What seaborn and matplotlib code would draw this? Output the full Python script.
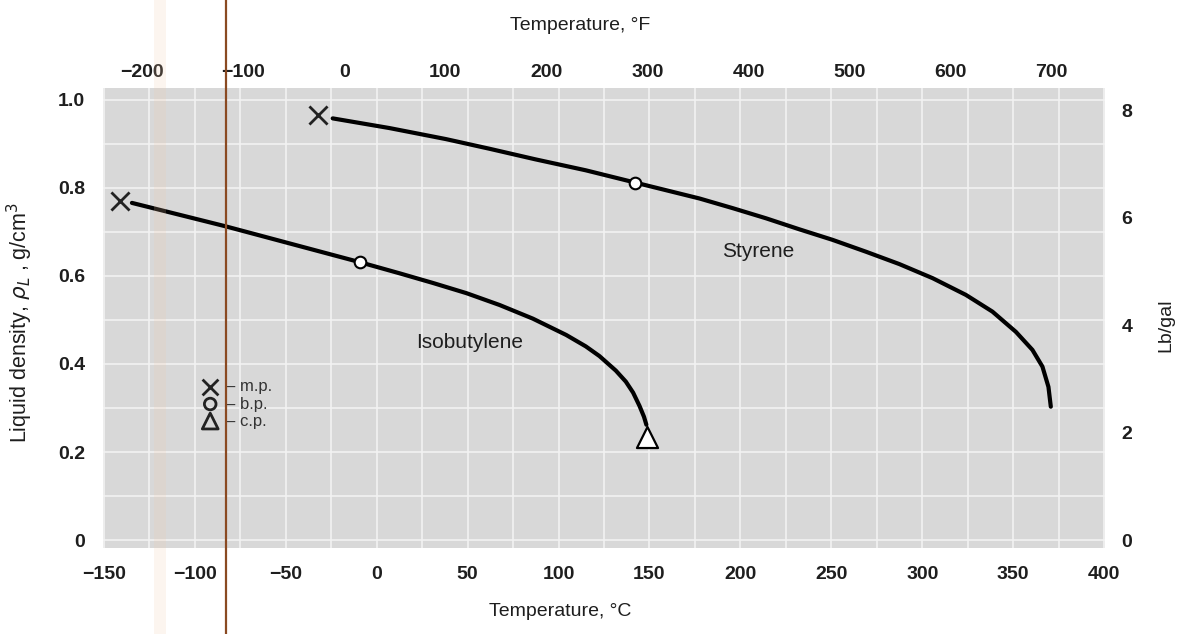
import matplotlib
matplotlib.use("Agg")
import matplotlib.pyplot as plt
import seaborn as sns
import pandas as pd
from matplotlib.lines import Line2D

# ---- data ----
iso_T = [-134.6, -83.3, -9.0, 12.6, 31.0, 49.3, 67.6, 85.9, 104.2, 115.0, 122.5, 131.5,
         137.0, 141.0, 144.5, 147.0, 148.3]
iso_rho = [0.766, 0.713, 0.631, 0.606, 0.584, 0.561, 0.534, 0.503, 0.466, 0.440, 0.418, 0.385,
           0.360, 0.335, 0.305, 0.280, 0.262]

sty_T = [-24.2, 7.0, 38.0, 62.0, 87.2, 115.0, 142.3, 177.5, 195.8, 214.1, 232.4, 250.7, 269.1,
         287.4, 305.7, 324.0, 338.6, 351.5, 360.6, 366.1, 369.4, 370.7]
sty_rho = [0.958, 0.936, 0.911, 0.889, 0.865, 0.840, 0.812, 0.776, 0.754, 0.731, 0.706, 0.682,
           0.655, 0.627, 0.595, 0.557, 0.519, 0.473, 0.432, 0.394, 0.348, 0.303]

mp_T = [-141.0, -32.4]
mp_rho = [0.770, 0.966]
bp_T = [-9.0, 142.3]
bp_rho = [0.631, 0.812]
cp_T = [148.4]
cp_rho = [0.234]

labels = ["Isobutylene", "Styrene"]
label_T = [51.0, 210.0]
label_rho = [0.448, 0.655]

x_ticks_C = [-150, -100, -50, 0, 50, 100, 150, 200, 250, 300, 350, 400]
x_ticks_F = [-200, -100, 0, 100, 200, 300, 400, 500, 600, 700]
y_ticks = [0, 0.2, 0.4, 0.6, 0.8, 1.0]
y_tick_labels = ["0", "0.2", "0.4", "0.6", "0.8", "1.0"]
y_ticks_lb = [0, 2, 4, 6, 8]
key_labels = ["m.p.", "b.p.", "c.p."]


def fmt(v):
    return ("\u2212" + str(abs(v))) if v < 0 else str(v)


# ---- style ----
sns.set_theme(style="whitegrid")
sns.set_style({"axes.facecolor": "#d8d8d8", "grid.color": "#f2f2f2",
               "axes.edgecolor": "#d8d8d8"})
plt.rcParams["font.family"] = ["Liberation Sans", "DejaVu Sans"]
tickfont = dict(family=["Liberation Sans", "DejaVu Sans"], weight="bold", size=14)
ink = "#1e1e1e"

fig = plt.figure(figsize=(11.78, 6.34), dpi=100)
ax = fig.add_axes([103 / 1178, 1 - 548 / 634, 1002 / 1178, 460 / 634])

df_iso = pd.DataFrame({"T": iso_T, "rho": iso_rho})
df_sty = pd.DataFrame({"T": sty_T, "rho": sty_rho})
sns.lineplot(data=df_iso, x="T", y="rho", ax=ax, color="black", lw=3.0, sort=False, zorder=3)
sns.lineplot(data=df_sty, x="T", y="rho", ax=ax, color="black", lw=3.0, sort=False, zorder=3)

sns.scatterplot(x=mp_T, y=mp_rho, ax=ax, marker="x", s=170, color="#222222", linewidth=2.0, zorder=4)
sns.scatterplot(x=bp_T, y=bp_rho, ax=ax, marker="o", s=70, facecolor="white",
                edgecolor="black", linewidth=1.5, zorder=4)
sns.scatterplot(x=cp_T, y=cp_rho, ax=ax, marker="^", s=230, facecolor="white",
                edgecolor="black", linewidth=1.6, zorder=4)

for name, t, r in zip(labels, label_T, label_rho):
    ax.text(t, r, name, ha="center", va="center", fontsize=15, color=ink, zorder=5)

# key
key_markers = ["x", "o", "^"]
key_y = [0.350, 0.313, 0.276]
for m, yy, lab in zip(key_markers, key_y, key_labels):
    if m == "x":
        ax.scatter([0.107], [yy], transform=ax.transAxes, marker="x", s=130,
                   color="#222222", linewidths=2.0, zorder=5)
    else:
        ax.scatter([0.107], [yy], transform=ax.transAxes, marker=m, s=70 if m == "o" else 130,
                   facecolor="none", edgecolor="#222222", linewidths=2.0, zorder=5)
    ax.text(0.123, yy, "\u2013 " + lab, transform=ax.transAxes, ha="left", va="center",
            fontsize=12, color="#333333", zorder=5)

ax.set_xlim(-150.5, 400.5)
ax.set_ylim(-0.018, 1.027)
ax.set_xticks(x_ticks_C)
ax.set_xticklabels([fmt(v) for v in x_ticks_C], **tickfont)
ax.set_xticks(range(-150, 401, 25), minor=True)
ax.set_yticks(y_ticks)
ax.set_yticklabels(y_tick_labels, **tickfont)
ax.set_yticks([i / 10 for i in range(0, 11)], minor=True)
ax.grid(True, which="both", color="#f2f2f2", lw=1.2)
ax.tick_params(which="both", length=0, colors=ink)
ax.tick_params(axis="x", pad=13)
ax.tick_params(axis="y", pad=13)
for s in ax.spines.values():
    s.set_visible(False)

ax.set_xlabel("Temperature, \u00b0C", fontsize=14, color=ink)
ax.xaxis.set_label_coords(0.456, -0.12)
ax.set_ylabel("Liquid density, $\\rho_L$ , g/cm$^3$", fontsize=15.5, color=ink)
ax.yaxis.set_label_coords(-0.068, 0.49)

c2f = lambda c: c * 9 / 5 + 32
f2c = lambda f: (f - 32) * 5 / 9
secx = ax.secondary_xaxis("top", functions=(c2f, f2c))
secx.set_xticks(x_ticks_F)
secx.set_xticklabels([fmt(v) for v in x_ticks_F], **tickfont)
secx.tick_params(length=0, pad=5, colors=ink)
secx.set_xlabel("Temperature, \u00b0F", fontsize=14, color=ink)
secx.xaxis.set_label_coords(0.476, 1.125, transform=ax.transAxes)
for s in secx.spines.values():
    s.set_visible(False)

# right scale as printed on the chart (8 Lb/gal sits just below 1.0 g/cm3)
g2lb = lambda g: g * 8.2
lb2g = lambda lb: lb / 8.2
secy = ax.secondary_yaxis("right", functions=(g2lb, lb2g))
secy.set_yticks(y_ticks_lb)
secy.set_yticklabels([str(v) for v in y_ticks_lb], **tickfont)
secy.tick_params(length=0, pad=12, colors=ink)
secy.set_ylabel("Lb/gal", fontsize=14, color=ink)
secy.yaxis.set_label_coords(1.052, 0.485, transform=ax.transAxes)
for s in secy.spines.values():
    s.set_visible(False)

# scan artefacts: page edge line and faint band
fig.add_artist(plt.Rectangle((154 / 1178, 0), 12 / 1178, 1, transform=fig.transFigure,
                             color="#f3c9a8", alpha=0.18, zorder=10, lw=0))
fig.add_artist(Line2D([226 / 1178, 226 / 1178], [0, 1], transform=fig.transFigure,
                      color="#8a4a22", lw=1.6, zorder=11))

fig.savefig("out.png", dpi=100)
